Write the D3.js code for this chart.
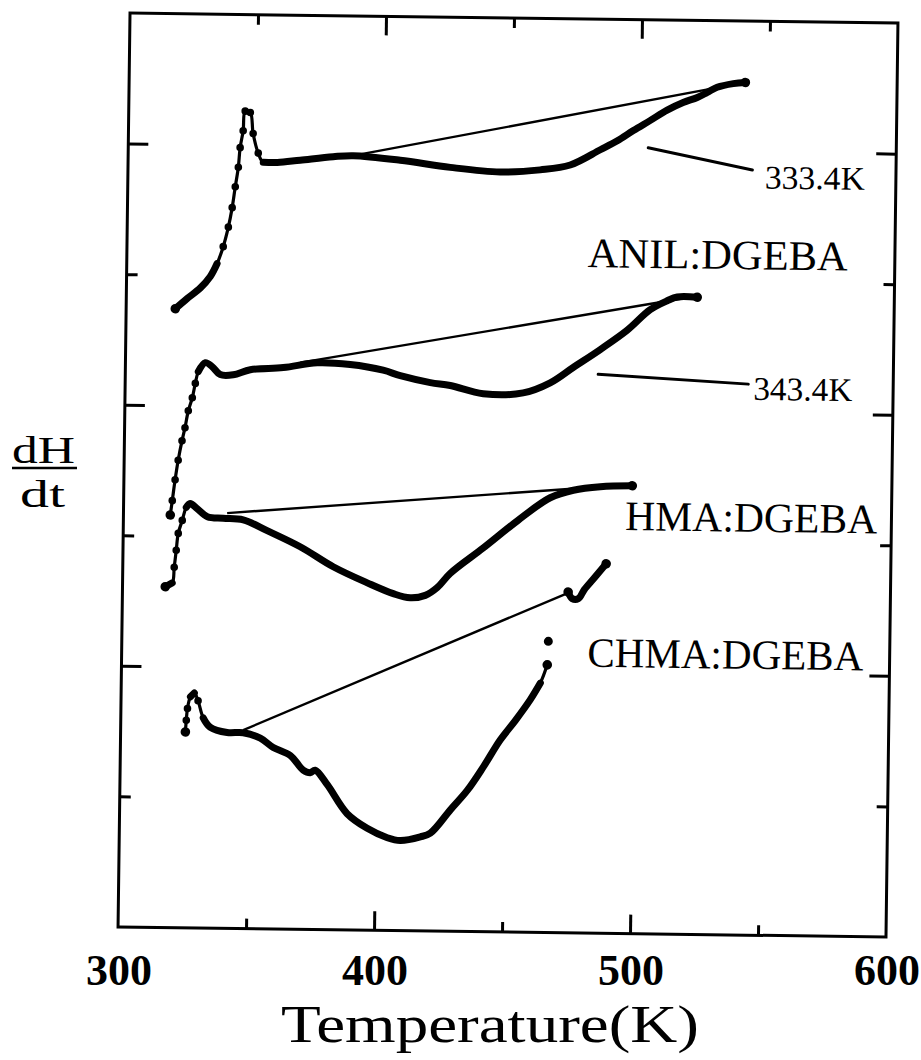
<!DOCTYPE html>
<html><head><meta charset="utf-8">
<script src="https://cdn.jsdelivr.net/npm/d3@7"></script>
<style>
html,body{margin:0;padding:0;background:#fff;}
svg{display:block;background:#fff;}
text{font-family:"Liberation Serif","Times New Roman",serif;fill:#000;}
</style></head><body>
<svg id="chart" width="921" height="1060"></svg>
<script>
// ---------------- data ----------------
const xTickMajor = [400, 500];
const xTickMinor = [350, 450, 550];
const xTickLabels = [300, 400, 500, 600];
const yTickMajor = [2, 4, 6];
const yTickMinor = [1, 3, 5];

// ANIL:DGEBA, isothermal 333.4 K
const anil333Temp = [319.2,323.8,328.8,332.7,335.3,337.6,339.5,340.9,342.0,343.1,343.7,344.8,345.5,347.5,348.7,350.8,352.8,358.3,367.2,380.1,387.9,406.3,425.9,445.4,461.0,472.7,484.4,491.0,497.2,503.8,510.3,516.5,522.0,525.9,529.7,536.0,540.7];
const anil333DH   = [4.74,4.82,4.90,4.99,5.09,5.22,5.37,5.52,5.68,5.83,5.98,6.11,6.26,6.25,6.09,5.94,5.87,5.87,5.89,5.92,5.93,5.90,5.85,5.82,5.84,5.88,6.00,6.07,6.15,6.23,6.31,6.37,6.41,6.45,6.49,6.52,6.53];
const anil333BaseTemp = [387.9, 540.7];
const anil333BaseDH   = [5.93, 6.53];

// ANIL:DGEBA, isothermal 343.4 K
const anil343Temp = [318.3,319.0,320.0,321.1,322.5,323.6,324.8,326.3,327.4,328.5,331.2,333.9,337.1,342.2,348.8,361.7,374.9,387.8,400.7,407.4,419.2,427.0,439.9,455.5,466.0,474.9,485.4,495.8,504.7,511.3,515.2,523.0];
const anil343DH   = [3.16,3.27,3.43,3.58,3.73,3.83,3.96,4.06,4.17,4.26,4.33,4.30,4.24,4.24,4.28,4.30,4.34,4.33,4.29,4.25,4.20,4.18,4.12,4.13,4.21,4.33,4.47,4.62,4.78,4.85,4.88,4.88];
const anil343BaseTemp = [368.3, 523.0];
const anil343BaseDH   = [4.34, 4.89];

// HMA:DGEBA
const hmaTemp = [316.7,319.4,320.1,320.8,321.5,323.0,324.5,326.0,328.8,332.8,339.0,346.8,356.2,369.2,382.2,395.6,405.8,412.4,418.3,422.9,427.9,440.8,453.9,466.6,475.6,486.1,498.6];
const hmaDH   = [2.61,2.64,2.76,2.89,3.02,3.12,3.22,3.25,3.21,3.15,3.14,3.13,3.05,2.93,2.78,2.66,2.58,2.55,2.57,2.63,2.74,2.94,3.15,3.33,3.39,3.42,3.43];
const hmaBaseTemp = [340.5, 498.6];
const hmaBaseDH   = [3.18, 3.44];

// CHMA:DGEBA
const chmaTemp = [325.3,325.6,326.0,327.1,328.6,330.1,332.2,334.9,341.6,347.9,354.6,359.7,366.4,371.5,374.3,376.2,381.0,388.9,396.8,404.7,409.8,417.6,421.5,429.2,435.7,441.8,448.3,454.1,459.8,463.7,466.3];
const chmaDH   = [1.50,1.59,1.68,1.77,1.80,1.74,1.61,1.54,1.50,1.50,1.46,1.39,1.33,1.22,1.20,1.22,1.11,0.89,0.78,0.71,0.69,0.72,0.75,0.93,1.08,1.26,1.47,1.62,1.78,1.91,2.05];
const chmaTailTemp = [474.1,475.7,478.1,480.4,484.2,488.8];
const chmaTailDH   = [2.61,2.56,2.56,2.63,2.72,2.83];
const chmaStrayTemp = [466.6];
const chmaStrayDH   = [2.23];
const chmaBaseTemp = [347.9, 473.7];
const chmaBaseDH   = [1.52, 2.60];

// annotation labels (data coordinates)
const labelTexts = ["333.4K", "343.4K", "ANIL:DGEBA", "HMA:DGEBA", "CHMA:DGEBA"];
const labelTemp  = [548.8, 545.4, 480.0, 496.0, 481.9];
const labelDH    = [5.72, 4.10, 5.10, 3.09, 2.04];
const leaderTemp = [[503.1, 543.9], [484.7, 543.4]];
const leaderDH   = [[6.02, 5.86], [4.28, 4.22]];

// ---------------- layout ----------------
const W = 921, H = 1060;
const plot = {left: 124, top: 18, width: 768, height: 914};
const tilt = 0.75; // scan rotation, degrees
const labelSize = [33, 33, 42, 42, 42];
const labelLen  = [100, 99, 260, 252, 276];

const svg = d3.select("#chart");
svg.append("rect").attr("width", W).attr("height", H).attr("fill", "#fff");

const x = d3.scaleLinear().domain([300, 600]).range([plot.left, plot.left + plot.width]);
const y = d3.scaleLinear().domain([0, 7]).range([plot.top + plot.height, plot.top]);

const cx = plot.left + plot.width / 2, cy = plot.top + plot.height / 2;
const g = svg.append("g").attr("transform", `rotate(${tilt},${cx},${cy})`);

// frame
g.append("rect")
  .attr("x", plot.left).attr("y", plot.top)
  .attr("width", plot.width).attr("height", plot.height)
  .attr("fill", "none").attr("stroke", "#000").attr("stroke-width", 3);

function styleAxis(sel) {
  sel.select(".domain").remove();
  sel.selectAll(".tick line").attr("stroke", "#000").attr("stroke-width", 3);
  sel.selectAll(".tick text").remove();
}
const LONG = 19, SHORT = 10;
[[xTickMajor, LONG], [xTickMinor, SHORT]].forEach(([vals, len]) => {
  g.append("g").attr("transform", `translate(0,${plot.top + plot.height})`)
    .call(d3.axisBottom(x).tickValues(vals).tickSize(-len)).call(styleAxis);
  g.append("g").attr("transform", `translate(0,${plot.top})`)
    .call(d3.axisTop(x).tickValues(vals).tickSize(-len)).call(styleAxis);
});
[[yTickMajor, LONG + 1], [yTickMinor, SHORT + 1]].forEach(([vals, len]) => {
  g.append("g").attr("transform", `translate(${plot.left},0)`)
    .call(d3.axisLeft(y).tickValues(vals).tickSize(-len)).call(styleAxis);
  g.append("g").attr("transform", `translate(${plot.left + plot.width},0)`)
    .call(d3.axisRight(y).tickValues(vals).tickSize(-len)).call(styleAxis);
});

// ---------------- curves ----------------
function zip(ts, vs) { return ts.map((t, i) => ({t, v: vs[i]})); }
const lineGen = d3.line().x(d => x(d.t)).y(d => y(d.v)).curve(d3.curveCatmullRom.alpha(0.5));

function drawCurve(pts) {
  const steep = pts.map((d, i) => {
    const a = pts[Math.max(0, i - 1)], b = pts[Math.min(pts.length - 1, i + 1)];
    const dx = Math.abs(x(b.t) - x(a.t)), dy = Math.abs(y(b.v) - y(a.v));
    return dy > 2.4 * dx;
  });
  g.append("path").datum(pts).attr("d", lineGen)
    .attr("fill", "none").attr("stroke", "#000").attr("stroke-width", 3.2)
    .attr("stroke-linejoin", "round").attr("stroke-linecap", "round");
  g.append("path").datum(pts).attr("d", lineGen.defined((d, i) => !steep[i]))
    .attr("fill", "none").attr("stroke", "#000").attr("stroke-width", 7)
    .attr("stroke-linejoin", "round").attr("stroke-linecap", "round");
  lineGen.defined(() => true);
  g.append("g").selectAll("circle").data(pts.filter((d, i) => steep[i]))
    .join("circle").attr("cx", d => x(d.t)).attr("cy", d => y(d.v)).attr("r", 3.8).attr("fill", "#000");
  g.append("g").selectAll("circle").data([pts[0], pts[pts.length - 1]])
    .join("circle").attr("cx", d => x(d.t)).attr("cy", d => y(d.v)).attr("r", 4.8).attr("fill", "#000");
}
function drawBase(ts, vs) {
  g.append("path").datum(zip(ts, vs)).attr("d", d3.line().x(d => x(d.t)).y(d => y(d.v)))
    .attr("fill", "none").attr("stroke", "#000").attr("stroke-width", 2.4);
}

drawBase(anil333BaseTemp, anil333BaseDH);
drawBase(anil343BaseTemp, anil343BaseDH);
drawBase(hmaBaseTemp, hmaBaseDH);
drawBase(chmaBaseTemp, chmaBaseDH);

drawCurve(zip(anil333Temp, anil333DH));
drawCurve(zip(anil343Temp, anil343DH));
drawCurve(zip(hmaTemp, hmaDH));
drawCurve(zip(chmaTemp, chmaDH));
drawCurve(zip(chmaTailTemp, chmaTailDH));
g.append("g").selectAll("circle").data(zip(chmaStrayTemp, chmaStrayDH)).join("circle")
  .attr("cx", d => x(d.t)).attr("cy", d => y(d.v)).attr("r", 4.5).attr("fill", "#000");

// leaders
leaderTemp.forEach((ts, i) => {
  g.append("path").datum(zip(ts, leaderDH[i])).attr("d", d3.line().x(d => x(d.t)).y(d => y(d.v)))
    .attr("fill", "none").attr("stroke", "#000").attr("stroke-width", 3).attr("stroke-linecap", "round");
});
// labels
labelTexts.forEach((t, i) => {
  g.append("text").attr("x", x(labelTemp[i])).attr("y", y(labelDH[i]))
    .attr("font-size", labelSize[i]).attr("textLength", labelLen[i])
    .attr("lengthAdjust", "spacingAndGlyphs").text(t);
});

// ---------------- axis labels (unrotated) ----------------
const tl = svg.append("g").attr("transform", "translate(-5,0)");
tl.selectAll("text").data(xTickLabels).join("text")
  .attr("x", d => x(d)).attr("y", 985)
  .attr("text-anchor", "middle").attr("font-size", 44).attr("font-weight", "bold")
  .text(d => d);

svg.append("text").attr("x", 490).attr("y", 1042).attr("text-anchor", "middle")
  .attr("font-size", 52).attr("textLength", 418).attr("lengthAdjust", "spacingAndGlyphs")
  .text("Temperature(K)");

svg.append("text").attr("x", 12).attr("y", 463).attr("font-size", 38)
  .attr("textLength", 63).attr("lengthAdjust", "spacingAndGlyphs").text("dH");
svg.append("line").attr("x1", 12).attr("x2", 77).attr("y1", 468).attr("y2", 468)
  .attr("stroke", "#000").attr("stroke-width", 2.5);
svg.append("text").attr("x", 20).attr("y", 507).attr("font-size", 38)
  .attr("textLength", 45).attr("lengthAdjust", "spacingAndGlyphs").text("dt");
</script>
</body></html>
